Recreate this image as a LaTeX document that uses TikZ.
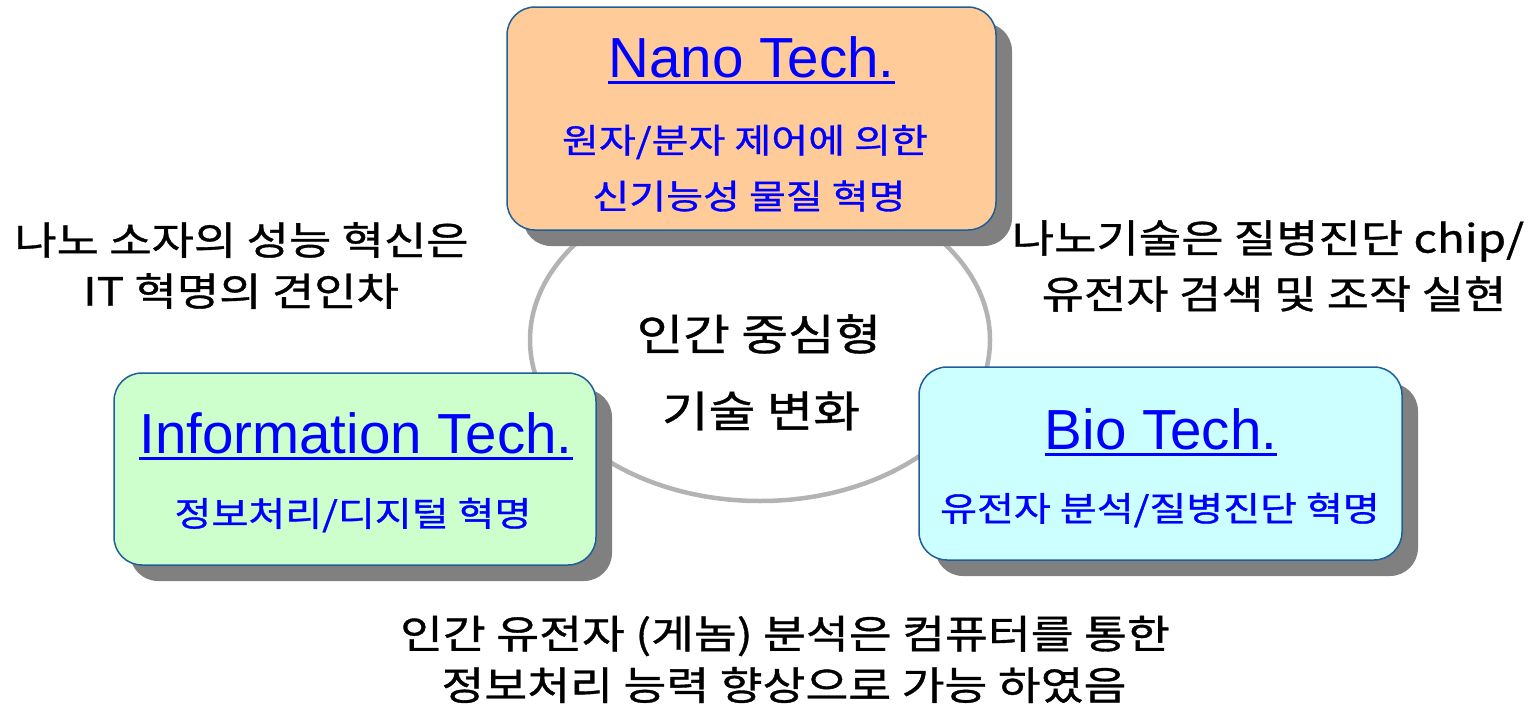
\documentclass[tikz,border=0pt]{standalone}
\usepackage{fontspec}
\setmainfont{Liberation Sans}
\newfontfamily\kr[FakeStretch=1.18,FakeBold=0.9]{Noto Sans CJK KR}
\usetikzlibrary{shadows}
\definecolor{peach}{HTML}{FFCC99}
\definecolor{mint}{HTML}{CCFFCC}
\definecolor{aqua}{HTML}{CCFFFF}
\definecolor{frame}{HTML}{1F5F99}
\definecolor{shade}{HTML}{808080}
\definecolor{ring}{HTML}{B3B3B3}
\begin{document}
\begin{tikzpicture}[x=1pt,y=-1pt,
  card/.style={draw=frame, line width=1.5pt, rounded corners=28pt, inner sep=0pt,
    drop shadow={fill=shade, opacity=1, shadow xshift=16pt, shadow yshift=-16pt}},
  ttl/.style={inner sep=0pt, anchor=base, text=blue, font=\fontsize{56.5}{60}\selectfont},
  uline/.style={blue, line width=3.5pt},
  sub/.style={inner sep=0pt, text=blue, font=\kr\fontsize{34}{40}\selectfont},
  outer/.style={inner sep=0pt, text=black, font=\kr\fontsize{39}{44}\selectfont},
  core/.style={inner sep=0pt, text=black, font=\kr\fontsize{43}{48}\selectfont},
  foot/.style={inner sep=0pt, text=black, font=\kr\fontsize{39.5}{46}\selectfont}]
\useasboundingbox (0,0) rectangle (1534,707);
\fill[white] (0,0) rectangle (1534,707);

% central ring
\draw[ring, line width=4.5pt] (760,340) ellipse [x radius=230, y radius=161];
\node[core] (c1) at (759,334) {인간 중심형};
\node[core] (c2) at (761,411) {기술 변화};

% cards
\node[card, fill=peach, minimum width=489pt, minimum height=223pt] (nano) at (751.5,118.5) {};
\node[card, fill=mint, minimum width=482pt, minimum height=192pt] (info) at (355,469) {};
\node[card, fill=aqua, minimum width=483pt, minimum height=193pt] (bio) at (1160.5,463.5) {};

% titles
\node[ttl] (nanoT) at (751.5,77) {Nano Tech.};
\node[ttl] (infoT) at (356,453) {Information Tech.};
\node[ttl] (bioT) at (1161,449) {Bio Tech.};
\draw[uline] ([yshift=-5.5pt]nanoT.base west) -- ([yshift=-5.5pt]nanoT.base east);
\draw[uline] ([yshift=-5.5pt]infoT.base west) -- ([yshift=-5.5pt]infoT.base east);
\draw[uline] ([yshift=-5.5pt]bioT.base west) -- ([yshift=-5.5pt]bioT.base east);

% subtitles
\node[sub] (nanoS1) at (745,142) {원자/분자 제어에 의한};
\node[sub] (nanoS2) at (749,196) {신기능성 물질 혁명};
\node[sub] (infoS) at (353,515) {정보처리/디지털 혁명};
\node[sub] (bioS) at (1160,510) {유전자 분석/질병진단 혁명};

% outer texts
\node[outer] (l1) at (241.5,240) {나노 소자의 성능 혁신은};
\node[outer] (l2) at (241,291) {IT 혁명의 견인차};
\node[outer] (r1) at (1268,241) {나노기술은 질병진단 chip/};
\node[outer] (r2) at (1274,294) {유전자 검색 및 조작 실현};
\node[foot] (b1) at (785,636) {인간 유전자 (게놈) 분석은 컴퓨터를 통한};
\node[foot] (b2) at (784,685) {정보처리 능력 향상으로 가능 하였음};
\end{tikzpicture}
\end{document}
